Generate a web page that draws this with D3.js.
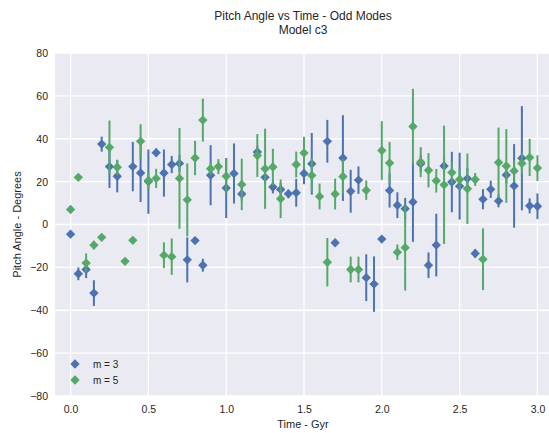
<!DOCTYPE html>
<html>
<head>
<meta charset="utf-8">
<script src="https://cdn.jsdelivr.net/npm/d3@7"></script>
<style>
  html, body { margin: 0; padding: 0; background: #ffffff; }
  svg { display: block; font-family: "Liberation Sans", Arial, sans-serif; }
</style>
</head>
<body>
<svg id="chart" width="549" height="433"></svg>
<script>
// Sample times (Gyr)
const times = [0.00, 0.05, 0.10, 0.15, 0.20, 0.25, 0.30, 0.35, 0.40, 0.45,
               0.50, 0.55, 0.60, 0.65, 0.70, 0.75, 0.80, 0.85, 0.90, 0.95,
               1.00, 1.05, 1.10, 1.15, 1.20, 1.25, 1.30, 1.35, 1.40, 1.45,
               1.50, 1.55, 1.60, 1.65, 1.70, 1.75, 1.80, 1.85, 1.90, 1.95,
               2.00, 2.05, 2.10, 2.15, 2.20, 2.25, 2.30, 2.35, 2.40, 2.45,
               2.50, 2.55, 2.60, 2.65, 2.70, 2.75, 2.80, 2.85, 2.90, 2.95, 3.00];

// m = 3 pitch angle (degrees) and its error
const m3Values = [-4.5, -23, -21, -32, 37.5, 27, 22.5, null, 27, 24,
                  20, 33.5, 24, 28, 28.5, -16.5, -7.5, -19, 23, null,
                  17, 23.8, 14.2, null, 33.8, 22, 17.5, 16.3, 14.3, 14.8,
                  23.8, 28.3, null, 38.8, -8.5, 31, 15.5, 20.7, -24.8, -27.8,
                  -6.8, 15.9, 9, 7.4, 10.5, 28.3, -19, -9.6, 27.3, 19.8,
                  17.9, 21.4, -13.5, 11.8, 16.4, 11, 23.1, 18, 30.9, 8.7, 8.5];
const m3Errors = [1, 3, 4, 6, 3.5, 10, 7.5, null, 11.5, 13.5,
                  15, 2, 11, 4, 4, 10.5, 1, 3, 14, null,
                  14, 14, 3, null, 3, 3, 3, 3, 2, 6.5,
                  5, 14.4, null, 10, 1.5, 20, 10, 6.4, 10.9, 12.9,
                  1.5, 8, 6, 5, 18.6, 4, 6, 14.6, 4, 14.1,
                  15.6, 5, 2, 4.7, 4, 3, 4, 19.5, 24.3, 3.5, 6];

// m = 5 pitch angle (degrees) and its error
const m5Values = [7, 22, -18, -9.6, -6, 36, 26.7, -17.2, -7.4, 38.8,
                  20.5, 21.5, -14.3, -15, 21.5, 11.5, 31, 48.7, 26, 27,
                  22.5, null, 18.7, null, 32.2, 26, 26.8, 12, null, 28,
                  33.4, 22.9, 13.1, -17.6, 14.2, 22.4, -21, -21, 16, null,
                  34.5, 28.7, -12.9, -10.8, 45.7, 29.1, 25.3, 20.4, 18.5, 24.2,
                  21, 16.7, 21, -16.2, null, 28.9, 27.3, 25, 28.5, 31.3, 26.3];
const m5Errors = [1, 1.5, 4.5, 2, 1, 12.5, 3.5, 1, 1, 8,
                  4, 4.5, 6, 8.5, 23.5, 17, 8, 10, 3, 3.5,
                  8, null, 12, null, 10, 18.7, 8.5, 9, null, 6,
                  7.5, 8, 6, 11.3, 7.2, 8, 6, 6, 4.5, null,
                  13.7, 9.8, 3.6, 20, 17.6, 7, 8, 5.5, 27.6, 5,
                  5, 16.4, 3, 14.4, null, 16.3, 17.2, 5, 5, 8.7, 6];

const xTicks = [0.0, 0.5, 1.0, 1.5, 2.0, 2.5, 3.0];
const yTicks = [-80, -60, -40, -20, 0, 20, 40, 60, 80];

const series = [
  { label: "m = 3", color: "#4C72B0", values: m3Values, errors: m3Errors },
  { label: "m = 5", color: "#55A868", values: m5Values, errors: m5Errors }
];

const svg = d3.select("#chart");
const plot = { left: 55, top: 53, right: 553, bottom: 396 };

const x = d3.scaleLinear().domain([-0.1, 3.1]).range([plot.left, plot.right]);
const y = d3.scaleLinear().domain([-80, 80]).range([plot.bottom, plot.top]);

// Background panel
svg.append("rect")
  .attr("x", plot.left).attr("y", plot.top)
  .attr("width", plot.right - plot.left).attr("height", plot.bottom - plot.top)
  .attr("fill", "#EAEAF2");

// Grid lines
const grid = svg.append("g");
grid.selectAll("line.gx").data(xTicks).join("line")
  .attr("x1", d => x(d)).attr("x2", d => x(d))
  .attr("y1", plot.top).attr("y2", plot.bottom)
  .attr("stroke", "#ffffff").attr("stroke-width", 1.3);
grid.selectAll("line.gy").data(yTicks).join("line")
  .attr("y1", d => y(d)).attr("y2", d => y(d))
  .attr("x1", plot.left).attr("x2", plot.right)
  .attr("stroke", "#ffffff").attr("stroke-width", 1.3);

// Axes (labels only, no domain or tick marks)
const xAxis = svg.append("g")
  .attr("transform", `translate(0,${plot.bottom})`)
  .call(d3.axisBottom(x).tickValues(xTicks).tickFormat(d3.format(".1f")).tickSize(0).tickPadding(10));
const yAxis = svg.append("g")
  .attr("transform", `translate(${plot.left},0)`)
  .call(d3.axisLeft(y).tickValues(yTicks).tickFormat(d3.format("d")).tickSize(0).tickPadding(7));
[xAxis, yAxis].forEach(a => {
  a.select(".domain").remove();
  a.selectAll("text").attr("fill", "#262626").style("font-size", "10.5px")
    .style("font-family", "'Liberation Sans', Arial, sans-serif");
});

// Error bars and diamond markers
const diamond = d3.symbol().type(d3.symbolSquare).size(44);
series.forEach(s => {
  const pts = times.map((t, i) => ({ t, v: s.values[i], e: s.errors[i] }))
    .filter(d => d.v !== null);
  const g = svg.append("g");
  g.selectAll("line").data(pts).join("line")
    .attr("x1", d => x(d.t)).attr("x2", d => x(d.t))
    .attr("y1", d => y(d.v - d.e)).attr("y2", d => y(d.v + d.e))
    .attr("stroke", s.color).attr("stroke-width", 2);
  g.selectAll("path").data(pts).join("path")
    .attr("d", diamond)
    .attr("transform", d => `translate(${x(d.t)},${y(d.v)}) rotate(45)`)
    .attr("fill", s.color);
});

// Legend
const legend = svg.append("g");
series.forEach((s, i) => {
  const ly = 364 + i * 16;
  legend.append("path").attr("d", diamond)
    .attr("transform", `translate(75,${ly}) rotate(45)`)
    .attr("fill", s.color);
  legend.append("text").attr("x", 93).attr("y", ly + 3.5)
    .attr("fill", "#262626").style("font-size", "10px").text(s.label);
});

// Titles and axis labels
svg.append("text").attr("x", 303).attr("y", 20).attr("text-anchor", "middle")
  .attr("fill", "#262626").style("font-size", "12px").text("Pitch Angle vs Time - Odd Modes");
svg.append("text").attr("x", 303).attr("y", 34).attr("text-anchor", "middle")
  .attr("fill", "#262626").style("font-size", "12px").text("Model c3");
svg.append("text").attr("x", 303).attr("y", 428).attr("text-anchor", "middle")
  .attr("fill", "#262626").style("font-size", "11px").text("Time - Gyr");
svg.append("text")
  .attr("transform", `translate(21,${(plot.top + plot.bottom) / 2}) rotate(-90)`)
  .attr("text-anchor", "middle")
  .attr("fill", "#262626").style("font-size", "11px").text("Pitch Angle - Degrees");
</script>
</body>
</html>
